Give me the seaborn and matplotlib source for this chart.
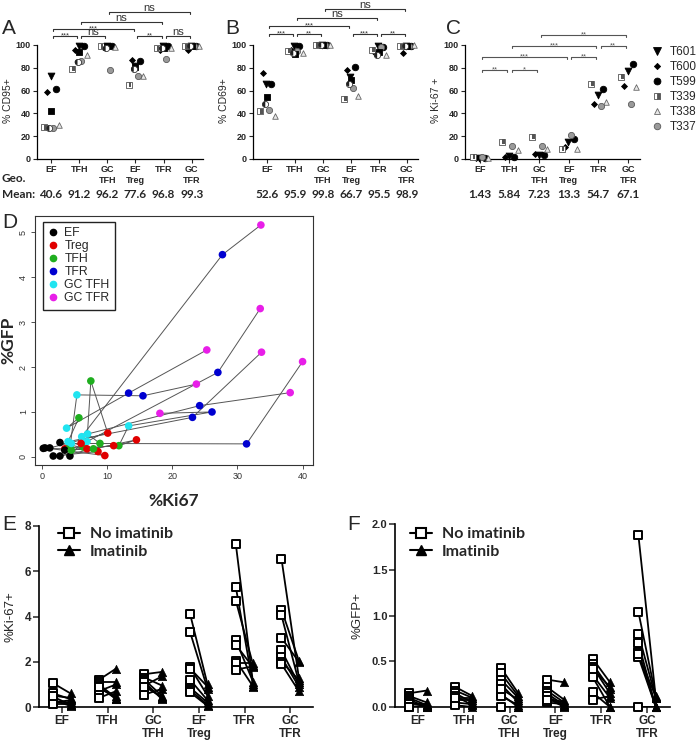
import numpy as np
import pandas as pd
import matplotlib
matplotlib.use("Agg")
import matplotlib.pyplot as plt
import matplotlib.transforms as mtransforms
from matplotlib.lines import Line2D
import seaborn as sns

# ---------------- data ----------------
cats = ["EF", "TFH", "GC\nTFH", "EF\nTreg", "TFR", "GC\nTFR"]
donors = ["T601", "T600", "T599", "T339", "T338", "T337", "X1", "X2"]

# panel A: % CD95+ per donor, one value per category
cd95 = {
    "T601": [73, 99, 99, 82, 99, 99],
    "T600": [59, 96, 98, 87, 96, 96],
    "T599": [61, 99, 99, 86, 99, 99],
    "T339": [28, 79, 99, 65, 97, 99],
    "T338": [30, 91, 98, 73, 97, 99],
    "T337": [27, 86, 78, 73, 88, 99],
    "X1":   [42, 94, 99, 81, 97, 99],
    "X2":   [27, 85, 97, 79, 97, 99],
}
cd95_mean = [40.6, 91.2, 96.2, 77.6, 96.8, 99.3]
cd95_sig = [(0, 1, "***"), (1, 2, "ns"), (3, 4, "**"), (4, 5, "ns"),
            (0, 3, "***"), (1, 4, "ns"), (2, 5, "ns")]

# panel B: % CD69+
cd69 = {
    "T601": [66, 99, 100, 72, 99, 99],
    "T600": [75, 96, 100, 78, 93, 93],
    "T599": [66, 99, 100, 81, 98, 99],
    "T339": [42, 95, 100, 53, 96, 99],
    "T338": [38, 93, 100, 55, 91, 100],
    "T337": [43, 95, 100, 62, 98, 99],
    "X1":   [54, 92, 100, 69, 94, 99],
    "X2":   [48, 93, 100, 66, 91, 99],
}
cd69_mean = [52.6, 95.9, 99.8, 66.7, 95.5, 98.9]
cd69_sig = [(0, 1, "***"), (1, 2, "**"), (3, 4, "***"), (4, 5, "**"),
            (0, 3, "***"), (1, 4, "ns"), (2, 5, "ns")]

# panel C: % Ki-67+
ki67 = {
    "T601": [1.0, 3.0, 3.5, 15, 56, 77.5],
    "T600": [1.0, 2.0, 4.0, 10.8, 48, 64],
    "T599": [1.0, 2.0, 3.5, 17.4, 61, 83.3],
    "T339": [2.0, 15, 19.5, 9, 66, 72],
    "T338": [1.0, 8, 9, 9, 50, 63],
    "T337": [2.0, 11, 11, 21, 46.5, 48],
}
ki67_mean = [1.43, 5.84, 7.23, 13.3, 54.7, 67.1]
ki67_sig = [(0, 1, "**"), (1, 2, "*"), (0, 3, "***"), (3, 4, "**"),
            (1, 4, "***"), (4, 5, "**"), (2, 5, "**")]
legend_donors = ["T601", "T600", "T599", "T339", "T338", "T337"]

# panel D: %Ki67 vs %GFP per population, 8 samples
pops = ["EF", "Treg", "TFH", "TFR", "GC TFH", "GC TFR"]
d_ki67 = {
    "EF":     [0.46, 1.2, 0.2, 2.76, 1.73, 2.76, 4.29, 3.5],
    "Treg":   [9.65, 10.1, 3.5, 6.9, 8.6, 14.5, 6.0, 11.0],
    "TFH":    [6.3, 7.5, 5.67, 4.3, 8.9, 11.8, 7.9, 4.5],
    "GC TFH": [6.1, 6.9, 3.78, 5.36, 7.0, 13.3, 4.0, 4.5],
    "TFR":    [27.7, 27.0, 13.3, 15.5, 24.2, 26.1, 23.1, 31.4],
    "GC TFR": [33.6, 33.5, 25.3, 23.7, 38.1, 18.1, 33.7, 40.0],
}
d_gfp = {
    "EF":     [0.2, 0.2, 0.19, 0.32, 0.02, 0.02, 0.02, 0.15],
    "Treg":   [0.03, 0.53, 0.18, 0.18, 0.12, 0.38, 0.3, 0.25],
    "TFH":    [0.22, 1.69, 0.87, 0.22, 0.3, 0.25, 0.18, 0.15],
    "GC TFH": [0.45, 0.34, 0.64, 1.38, 0.51, 0.69, 0.34, 0.3],
    "TFR":    [4.5, 1.88, 1.42, 1.36, 1.14, 1.0, 0.88, 0.29],
    "GC TFR": [5.16, 3.3, 2.38, 1.62, 1.43, 0.97, 2.33, 2.12],
}
path_order = ["EF", "Treg", "TFH", "GC TFH", "TFR", "GC TFR"]

# panel E: %Ki-67+ with / without imatinib
e_no = {
    "EF": [1.05, 0.6, 0.45, 0.3, 0.25, 0.2, 0.15, 0.5],
    "TFH": [1.2, 1.1, 1.0, 0.95, 0.8, 0.7, 0.4, 0.9],
    "GC TFH": [1.45, 1.3, 1.2, 1.0, 0.95, 0.55, 1.1, 0.9],
    "EF Treg": [4.1, 3.3, 1.75, 1.7, 1.2, 0.85, 0.75, 0.65],
    "TFR": [7.2, 5.3, 4.7, 2.95, 2.75, 2.05, 1.95, 1.65],
    "GC TFR": [6.55, 4.3, 4.05, 3.05, 2.5, 2.2, 2.0, 1.9],
}
e_imat = {
    "EF": [0.6, 0.35, 0.1, 0.05, 0.2, 0.3, 0.15, 0.4],
    "TFH": [1.7, 1.1, 0.4, 0.35, 0.5, 1.0, 0.7, 0.35],
    "GC TFH": [1.55, 0.95, 0.5, 0.4, 1.35, 0.8, 0.35, 0.45],
    "EF Treg": [1.0, 0.8, 0.5, 0.9, 0.3, 0.2, 0.1, 0.05],
    "TFR": [1.0, 0.95, 1.85, 1.1, 1.75, 0.9, 1.95, 1.8],
    "GC TFR": [1.3, 2.05, 1.1, 2.0, 1.0, 0.9, 1.2, 0.7],
}
# panel F: %GFP+
f_no = {
    "EF": [0.15, 0.12, 0.1, 0.08, 0.05, 0.03, 0.0, 0.0],
    "TFH": [0.22, 0.18, 0.15, 0.12, 0.08, 0.05, 0.02, 0.1],
    "GC TFH": [0.43, 0.37, 0.3, 0.25, 0.14, 0.12, 0.0, 0.2],
    "EF Treg": [0.3, 0.22, 0.18, 0.15, 0.1, 0.05, 0.12, 0.08],
    "TFR": [0.53, 0.47, 0.44, 0.35, 0.33, 0.16, 0.08, 0.42],
    "GC TFR": [1.88, 1.04, 0.8, 0.7, 0.6, 0.55, 0.0, 0.58],
}
f_imat = {
    "EF": [0.18, 0.05, 0.02, 0.0, 0.01, 0.03, 0.0, 0.02],
    "TFH": [0.12, 0.1, 0.05, 0.02, 0.08, 0.03, 0.0, 0.1],
    "GC TFH": [0.15, 0.12, 0.1, 0.05, 0.0, 0.02, 0.0, 0.08],
    "EF Treg": [0.27, 0.08, 0.05, 0.02, 0.0, 0.03, 0.01, 0.06],
    "TFR": [0.27, 0.2, 0.15, 0.1, 0.0, 0.0, 0.12, 0.22],
    "GC TFR": [0.1, 0.12, 0.1, 0.0, 0.0, 0.0, 0.0, 0.11],
}
e_cats = ["EF", "TFH", "GC TFH", "EF Treg", "TFR", "GC TFR"]

# ---------------- style ----------------
sns.set_style("ticks")
plt.rcParams["font.family"] = ["Liberation Sans", "DejaVu Sans"]
CAL = ["Lato", "DejaVu Sans"]

W, H = 696, 740
fig = plt.figure(figsize=(W / 100, H / 100), dpi=100)


def add_ax(l, t, r, b):
    return fig.add_axes([l / W, 1 - b / H, (r - l) / W, (b - t) / H])


donor_dx = {"T601": -0.02, "T600": -0.14, "T599": 0.16, "T339": -0.24,
            "T338": 0.27, "T337": 0.08, "X1": 0.0, "X2": -0.06}
donor_style = {
    "T601": dict(m="v", s=24, fc="black", ec="black"),
    "T600": dict(m="D", s=9, fc="black", ec="black"),
    "T599": dict(m="o", s=22, fc="black", ec="black"),
    "T339": dict(m="s", s=16, fc="white", ec="#555555"),
    "T338": dict(m="^", s=16, fc="#e8e8e8", ec="#666666"),
    "T337": dict(m="o", s=20, fc="#9a9a9a", ec="#5a5a5a"),
    "X1": dict(m="s", s=24, fc="black", ec="black"),
    "X2": dict(m="o", s=20, fc="white", ec="#333333"),
}
ang = np.linspace(np.pi / 2, 3 * np.pi / 2, 20)
half_marker = {
    "T339": ([(0, -1), (1, -1), (1, 1), (0, 1), (0, -1)], "#555555"),
    "X2": (list(zip(np.cos(ang), np.sin(ang))), "#222222"),
}


def bracket(ax, i, j, y, txt, color):
    g = 0.07
    x1, x2 = i + g, j - g
    ax.plot([x1, x1, x2, x2], [y - 1.8, y, y, y - 1.8], color=color, lw=0.8,
            clip_on=False)
    if txt == "ns":
        ax.text((x1 + x2) / 2, y + 0.8, txt, ha="center", va="baseline",
                fontsize=8, color=color, clip_on=False)
    else:
        ax.text((x1 + x2) / 2, y - 1.5, txt, ha="center", va="baseline",
                fontsize=5.5, color=color, clip_on=False)


def donor_panel(ax, values, means, sig, sig_y, ylabel, color="#333333"):
    for d in donors:
        if d not in values:
            continue
        st = donor_style[d]
        xs = np.arange(6) + donor_dx[d]
        sns.scatterplot(x=xs, y=values[d], marker=st["m"], s=st["s"],
                        color=st["fc"], edgecolor=st["ec"], linewidth=0.6,
                        ax=ax, zorder=3, clip_on=False)
        if d in half_marker:
            verts, c = half_marker[d]
            sns.scatterplot(x=xs, y=values[d], marker=verts, s=st["s"] * 0.85,
                            color=c, edgecolor="none", linewidth=0, ax=ax,
                            zorder=4, clip_on=False)
    for (i, j, txt), y in zip(sig, sig_y):
        bracket(ax, i, j, y, txt, color)
    ax.set_xlim(-0.5, 5.4)
    ax.set_ylim(0, 102)
    ax.set_xticks(range(6))
    ax.set_xticklabels(cats, fontsize=6.5, fontweight="bold", linespacing=1.25)
    ax.set_yticks(range(0, 101, 20))
    for lbl in ax.get_yticklabels():
        lbl.set_fontsize(6.5)
        lbl.set_fontweight("bold")
    sns.despine(ax=ax)
    ax.spines["left"].set_bounds(0, 100)
    for sp in ("left", "bottom"):
        ax.spines[sp].set_linewidth(0.9)
        ax.spines[sp].set_color("black")
    ax.tick_params(direction="out", length=3, width=0.8, pad=1.5)
    ax.set_ylabel(ylabel, fontsize=7.5, labelpad=2)
    tr = mtransforms.blended_transform_factory(ax.transData, fig.transFigure)
    for i, m in enumerate(means):
        ax.text(i, 1 - 195 / H, f"{m}", transform=tr, ha="center",
                va="center", fontsize=8.5, fontweight="bold", family=CAL)


axA = add_ax(37, 42.7, 203, 159)
donor_panel(axA, cd95, cd95_mean, cd95_sig, [108, 108, 108, 108, 114, 120, 129],
            "% CD95+")
axB = add_ax(253, 42.7, 418, 159)
donor_panel(axB, cd69, cd69_mean, cd69_sig, [110, 110, 110, 110, 117, 124, 131.5],
            "% CD69+")
axC = add_ax(465, 42.7, 640, 159)
donor_panel(axC, ki67, ki67_mean, ki67_sig, [78, 78, 89.5, 89.5, 99.4, 99.4, 108.8],
            "% Ki-67 +", color="#555555")

fig.text(2 / W, 1 - 178 / H, "Geo.", fontsize=8.5, fontweight="bold",
         family=CAL, va="center")
fig.text(2 / W, 1 - 195 / H, "Mean:", fontsize=8.5, fontweight="bold",
         family=CAL, va="center")

handles = []
for d in legend_donors:
    st = donor_style[d]
    kw = dict(marker=st["m"], ls="", markerfacecolor=st["fc"],
              markeredgecolor=st["ec"], markersize=np.sqrt(st["s"]) * 1.05,
              markeredgewidth=0.6)
    if d == "T339":
        kw.update(fillstyle="right", markerfacecolor="#555555",
                  markerfacecoloralt="white")
    handles.append(Line2D([], [], **kw))
axC.legend(handles, legend_donors, loc="upper left",
           bbox_to_anchor=(651 / W, 1 - 46 / H), bbox_transform=fig.transFigure,
           frameon=False, fontsize=8.5, handlelength=1.0, handletextpad=0.6,
           labelspacing=0.25, borderpad=0, borderaxespad=0)

# ---------------- panel D ----------------
axD = add_ax(35, 216, 313, 465)
rows = []
for p in pops:
    for si in range(8):
        rows.append(dict(pop=p, sample=si, step=path_order.index(p),
                         ki67=d_ki67[p][si], gfp=d_gfp[p][si]))
dfD = pd.DataFrame(rows).sort_values(["sample", "step"])
pop_colors = {"EF": "black", "Treg": "#e00000", "TFH": "#1fae1f",
              "TFR": "#0000d0", "GC TFH": "#20e4f0", "GC TFR": "#e81ee8"}
sns.lineplot(data=dfD, x="ki67", y="gfp", units="sample", estimator=None,
             sort=False, color="#555555", lw=0.7, ax=axD, legend=False)
sns.scatterplot(data=dfD, x="ki67", y="gfp", hue="pop", hue_order=pops,
                palette=pop_colors, s=30, edgecolor="none", ax=axD, zorder=3,
                legend=False)
axD.set_xlim(-1.07, 41.6)
axD.set_ylim(-0.18, 5.36)
axD.set_xticks([0, 10, 20, 30, 40])
axD.set_yticks(range(6))
axD.tick_params(direction="out", length=3, width=0.6, labelsize=6.5, pad=2,
                colors="#333333")
for lbl in axD.get_yticklabels():
    lbl.set_rotation(90)
    lbl.set_va("center")
for sp in axD.spines.values():
    sp.set_linewidth(0.8)
    sp.set_color("#333333")
axD.set_xlabel("%Ki67", fontsize=12.5, fontweight="bold", family=CAL, labelpad=9)
axD.set_ylabel("%GFP", fontsize=12.5, fontweight="bold", family=CAL, labelpad=2)
hD = [Line2D([], [], marker="o", ls="", color=pop_colors[p], markersize=4.5)
      for p in pops]
legD = axD.legend(hD, pops, loc="upper left", bbox_to_anchor=(0.029, 0.976),
                  fontsize=8.8, handlelength=0.8, handletextpad=0.5,
                  labelspacing=0.08, borderpad=0.45, borderaxespad=0,
                  fancybox=False, framealpha=1, edgecolor="#222222")
legD.get_frame().set_linewidth(1.0)


# ---------------- panels E/F ----------------
def pair_panel(ax, no, imat, ylim, yticks, ylabel, leg_anchor):
    rows = []
    for ci, c in enumerate(e_cats):
        for si in range(8):
            unit = ci * 10 + si
            rows.append(dict(unit=unit, trt="No imatinib", x=ci - 0.19,
                             v=no[c][si]))
            rows.append(dict(unit=unit, trt="Imatinib", x=ci + 0.19,
                             v=imat[c][si]))
    df = pd.DataFrame(rows)
    sns.lineplot(data=df, x="x", y="v", units="unit", estimator=None,
                 sort=False, color="black", lw=1.3, ax=ax, legend=False)
    sns.scatterplot(data=df[df.trt == "No imatinib"], x="x", y="v", marker="s",
                    s=34, color="white", edgecolor="black", linewidth=1.4,
                    ax=ax, zorder=3, clip_on=False)
    sns.scatterplot(data=df[df.trt == "Imatinib"], x="x", y="v", marker="^",
                    s=36, color="black", edgecolor="black", linewidth=0.5,
                    ax=ax, zorder=3, clip_on=False)
    ax.set_xlim(-0.5, 5.5)
    ax.set_ylim(*ylim)
    ax.set_xticks(range(6))
    ax.set_xticklabels(cats, fontsize=8.5, fontweight="bold", linespacing=1.15)
    ax.set_yticks(yticks)
    sns.despine(ax=ax)
    for sp in ("left", "bottom"):
        ax.spines[sp].set_linewidth(1.2)
        ax.spines[sp].set_color("black")
    ax.tick_params(direction="out", length=4, width=1.1, pad=1.5)
    ax.set_xlabel("")
    ax.set_ylabel(ylabel, fontsize=9.5, labelpad=6)
    hh = [Line2D([], [], color="black", lw=1.5, marker="s", markersize=6.5,
                 markerfacecolor="white", markeredgecolor="black",
                 markeredgewidth=1.5),
          Line2D([], [], color="black", lw=1.5, marker="^", markersize=7,
                 markerfacecolor="black", markeredgecolor="black")]
    ax.legend(hh, ["No imatinib", "Imatinib"], loc="upper left",
              bbox_to_anchor=leg_anchor, bbox_transform=fig.transFigure,
              frameon=False, handlelength=1.4, handletextpad=0.6,
              labelspacing=0.2, borderpad=0, borderaxespad=0,
              prop=dict(family=CAL, weight="bold", size=11.5))


axE = add_ax(39, 526, 313, 707)
pair_panel(axE, e_no, e_imat, (0, 8), [0, 2, 4, 6, 8], "%Ki-67+",
           (58 / W, 1 - 527 / H))
axE.set_yticklabels(["0", "2", "4", "6", "8"], fontsize=8.5, fontweight="bold")
axF = add_ax(395, 524, 670, 707)
pair_panel(axF, f_no, f_imat, (0, 2), [0.0, 0.5, 1.0, 1.5, 2.0], "%GFP+",
           (410 / W, 1 - 527 / H))
axF.set_yticklabels(["0.0", "0.5", "1.0", "1.5", "2.0"], fontsize=8,
                    fontweight="bold")

# panel letters
for letter, x, y in [("A", 2, 28), ("B", 225, 28), ("C", 446, 28),
                     ("D", 2, 222), ("E", 2, 524), ("F", 347, 524)]:
    fig.text(x / W, 1 - y / H, letter, fontsize=15, va="center", ha="left")

fig.savefig("out.png", dpi=100)
